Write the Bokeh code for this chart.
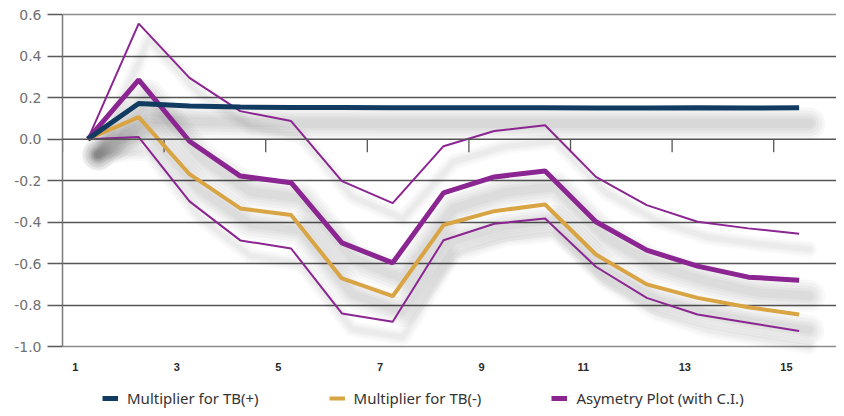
import math
from bokeh.plotting import figure
from bokeh.models import (Range1d, FixedTicker, LinearAxis, Grid, Legend, LegendItem,
                          ColumnDataSource, NumeralTickFormatter, Span)
from bokeh.core.properties import value
from bokeh.transform import dodge
from bokeh.embed import file_html
from bokeh.resources import INLINE

# ---- data ----
periods = list(range(1, 16))
tb_pos = [0.0, 0.172, 0.160, 0.155, 0.152, 0.152, 0.151, 0.151, 0.151, 0.151, 0.150, 0.150, 0.151, 0.150, 0.151]
tb_neg = [0.0, 0.106, -0.169, -0.334, -0.366, -0.671, -0.757, -0.414, -0.347, -0.315, -0.556, -0.700, -0.765, -0.810, -0.845]
asym = [0.0, 0.286, -0.010, -0.178, -0.210, -0.500, -0.596, -0.259, -0.182, -0.154, -0.398, -0.535, -0.612, -0.665, -0.680]
asym_upper = [0.0, 0.557, 0.295, 0.135, 0.087, -0.202, -0.308, -0.034, 0.039, 0.067, -0.182, -0.318, -0.398, -0.430, -0.456]
asym_lower = [0.0, 0.010, -0.300, -0.488, -0.527, -0.840, -0.880, -0.487, -0.408, -0.382, -0.615, -0.765, -0.845, -0.885, -0.925]

x_tick_labels = ["1", "3", "5", "7", "9", "11", "13", "15"]
y_ticks = [-1.0, -0.8, -0.6, -0.4, -0.2, 0.0, 0.2, 0.4, 0.6]
legend_labels = ["Multiplier for TB(+)", "Multiplier for TB(-)", "Asymetry Plot (with C.I.)"]

BLUE = "#123b62"
GOLD = "#d9a443"
PURPLE = "#8b2591"

src = ColumnDataSource(dict(x=periods, pos=tb_pos, neg=tb_neg, asym=asym,
                            up=asym_upper, lo=asym_lower))

y_min, y_max = min(y_ticks), max(y_ticks)

p = figure(width=836, height=408, x_range=Range1d(0.5, 15.736), y_range=Range1d(-1.2981, 0.62),
           x_axis_type=None, y_axis_type=None, output_backend="svg", toolbar_location=None,
           min_border_left=62, min_border_right=0, min_border_top=10, min_border_bottom=0)
p.outline_line_color = None
p.background_fill_color = "white"

# ---- grid ----
inner = [t for t in y_ticks if t not in (y_min, y_max, 0.0)]
p.add_layout(Grid(dimension=1, ticker=FixedTicker(ticks=inner),
                  grid_line_color="#555555", grid_line_width=1.3))
p.add_layout(Grid(dimension=1, ticker=FixedTicker(ticks=[y_min, y_max]),
                  grid_line_color="#8c8c8c", grid_line_width=1.3))

# ---- y axis ----
yax = LinearAxis(ticker=FixedTicker(ticks=y_ticks), formatter=NumeralTickFormatter(format="0.0"),
                 bounds=(y_min, y_max))
yax.axis_line_color = "#7a7a7a"
yax.axis_line_width = 1.5
yax.major_tick_out = 15
yax.major_tick_in = 0
yax.major_tick_line_color = "#5a5a5a"
yax.major_tick_line_width = 1.3
yax.minor_tick_line_color = None
yax.major_label_standoff = 6
yax.major_label_text_font = "DejaVu Sans"
yax.major_label_text_font_size = "14px"
yax.major_label_text_color = "#707070"
p.add_layout(yax, "left")

# ---- soft drop shadows ----
for col, widths, alpha in [("up", [16, 12, 8, 5], 0.018), ("lo", [16, 12, 8, 5], 0.018),
                           ("neg", [30, 24, 18, 13, 8], 0.026),
                           ("asym", [32, 26, 20, 14, 9], 0.026),
                           ("pos", [32, 26, 20, 14, 9], 0.03)]:
    for w in widths:
        p.line(x=dodge("x", 0.2, range=p.x_range), y=dodge(col, -0.075, range=p.y_range),
               source=src, line_width=w, line_color="black", line_alpha=alpha,
               line_join="round", line_cap="round")

# ---- x axis line at zero with tick marks ----
tick_pos = [k - 0.5 for k in range(1, 16, 2)]
p.add_layout(Span(location=0, dimension="width", line_color="#555555", line_width=1.5))
p.ray(x=tick_pos, y=[0] * len(tick_pos), length=13, length_units="screen", angle=-math.pi / 2,
      line_color="#555555", line_width=1.3)

# ---- x tick labels below the -1.0 line ----
label_pos = [k - 0.25 for k in range(1, 16, 2)]
p.text(x=label_pos, y=[y_min] * len(label_pos), text=x_tick_labels, y_offset=20,
       text_align="center", text_baseline="middle", text_font=value("Liberation Sans"),
       text_font_style="bold", text_font_size="11px", text_color="#2a2a2a")

# ---- series ----
p.line("x", "up", source=src, line_color=PURPLE, line_width=2)
p.line("x", "lo", source=src, line_color=PURPLE, line_width=2)
r_neg = p.line("x", "neg", source=src, line_color=GOLD, line_width=4)
r_asym = p.line("x", "asym", source=src, line_color=PURPLE, line_width=5)
r_pos = p.line("x", "pos", source=src, line_color=BLUE, line_width=5)

legend = Legend(items=[LegendItem(label=legend_labels[0], renderers=[r_pos]),
                       LegendItem(label=legend_labels[1], renderers=[r_neg]),
                       LegendItem(label=legend_labels[2], renderers=[r_asym])],
                orientation="horizontal", location=(40, 0))
legend.label_text_font = "Noto Sans"
legend.label_text_font_size = "15px"
legend.label_text_color = "#333333"
legend.glyph_width = 16
legend.glyph_height = 8
legend.label_standoff = 9
legend.spacing = 70
legend.padding = 0
legend.margin = 0
legend.border_line_color = None
legend.background_fill_alpha = 0
p.add_layout(legend, "center")

open("out.html", "w").write(file_html(p, INLINE))
